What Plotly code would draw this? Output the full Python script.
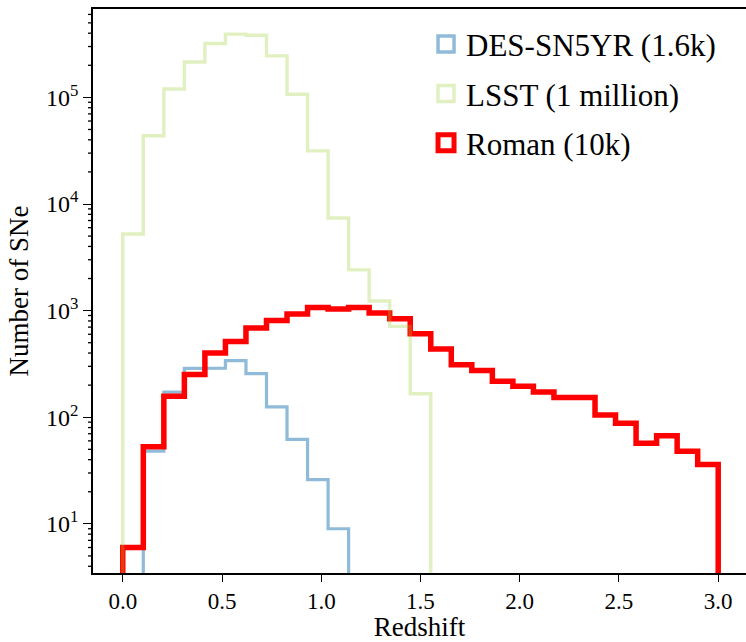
import math
import numpy as np
import plotly.graph_objects as go

# Shared redshift bin edges (29 equal bins from 0 to 3)
BIN_EDGES = np.linspace(0.0, 3.0, 30)

# Histogram counts per bin
DES_COUNTS = [0, 48, 172, 287, 289, 339, 256, 125, 62, 26, 9]
LSST_COUNTS = [5230, 43700, 120000, 215000, 320000, 392000, 383000, 245000,
               107000, 31500, 7400, 2410, 1230, 711, 166]
ROMAN_COUNTS = [6, 53, 157, 251, 400, 514, 687, 809, 929, 1072, 1035, 1072,
                949, 839, 607, 437, 311, 275, 217, 195, 172, 153, 153, 105,
                88, 57, 67, 48, 36]

SERIES_NAMES = ["DES-SN5YR (1.6k)", "LSST (1 million)", "Roman (10k)"]
X_TICKS = [0.0, 0.5, 1.0, 1.5, 2.0, 2.5, 3.0]
Y_DECADES = [1, 2, 3, 4, 5]
Y_TICKTEXT = ["10<sup>1</sup>", "10<sup>2</sup>", "10<sup>3</sup>",
              "10<sup>4</sup>", "10<sup>5</sup>"]

FLOOR = 0.1  # below visible range, mimics the step histogram dropping to zero


def step_xy(edges, counts):
    xs = [edges[0]]
    ys = [FLOOR]
    for i, c in enumerate(counts):
        v = c if c > 0 else FLOOR
        xs += [edges[i], edges[i + 1]]
        ys += [v, v]
    xs.append(edges[len(counts)])
    ys.append(FLOOR)
    return xs, ys


Y_RANGE = [0.539, 5.829]  # log10 units
y_major = [10.0 ** d for d in Y_DECADES]
y_minor = [m * 10.0 ** d for d in range(0, 6) for m in range(2, 10)]

DES_COLOR = "rgba(31,119,180,0.5)"
LSST_COLOR = "rgba(154,205,50,0.3)"
ROMAN_COLOR = "rgb(255,0,0)"

FONT = "Liberation Serif"
PLOT_W = 746 - 93

fig = go.Figure()

for counts, color, width in [
    (DES_COUNTS, DES_COLOR, 3.2),
    (ROMAN_COUNTS, ROMAN_COLOR, 5.5),
    (LSST_COUNTS, LSST_COLOR, 3.4),
]:
    xs, ys = step_xy(BIN_EDGES, counts)
    fig.add_trace(go.Scatter(x=xs, y=ys, mode="lines", showlegend=False,
                             line=dict(color=color, width=width),
                             hoverinfo="skip"))

# legend entries (outlined rectangles like matplotlib step-hist patches)
for name, color, lw, rank in [
    (SERIES_NAMES[0], DES_COLOR, 3.5, 1),
    (SERIES_NAMES[1], LSST_COLOR, 3.5, 2),
    (SERIES_NAMES[2], ROMAN_COLOR, 5, 3),
]:
    fig.add_trace(go.Scatter(
        x=[None], y=[None], mode="markers", name=name, legendrank=rank,
        legendgroup=name,
        marker=dict(symbol="square-open", size=16, color=color,
                    line=dict(width=lw, color=color)),
    ))

# minor log ticks on the y axis (matplotlib style)
for v in y_minor:
    frac = (math.log10(v) - Y_RANGE[0]) / (Y_RANGE[1] - Y_RANGE[0])
    if 0.0 <= frac <= 1.0:
        fig.add_shape(type="line", xref="paper", yref="paper",
                      x0=-5.0 / PLOT_W, x1=0.0, y0=frac, y1=frac,
                      line=dict(color="black", width=1.3), layer="above")

fig.update_layout(
    width=746, height=642,
    margin=dict(l=93, r=0, t=9, b=69, autoexpand=False),
    paper_bgcolor="white", plot_bgcolor="white",
    font=dict(family=FONT, color="black", size=23),
    legend=dict(x=0.51, y=0.985, xanchor="left", yanchor="top",
                font=dict(size=31, family=FONT), bgcolor="rgba(0,0,0,0)",
                tracegroupgap=6, itemsizing="trace"),
    showlegend=True,
)

fig.update_xaxes(
    range=[-0.15, 3.14], tickvals=X_TICKS, tickformat=".1f",
    ticks="outside", ticklen=7, tickwidth=1.3, tickcolor="black",
    showline=True, linecolor="black", linewidth=1.5, mirror=True,
    showgrid=False, zeroline=False,
    tickfont=dict(size=23, family=FONT),
    title=dict(text="Redshift", font=dict(size=27, family=FONT), standoff=5),
    automargin=False,
)

fig.update_yaxes(
    type="log", range=Y_RANGE,
    tickmode="array", tickvals=y_major, ticktext=Y_TICKTEXT,
    ticks="outside", ticklen=8, tickwidth=1.3, tickcolor="black",
    showline=True, linecolor="black", linewidth=1.5, mirror=False,
    showgrid=False, zeroline=False,
    tickfont=dict(size=24, family=FONT),
    title=dict(text="Number of SNe", font=dict(size=27, family=FONT), standoff=10),
    automargin=False,
)

fig.write_html("out.html")
